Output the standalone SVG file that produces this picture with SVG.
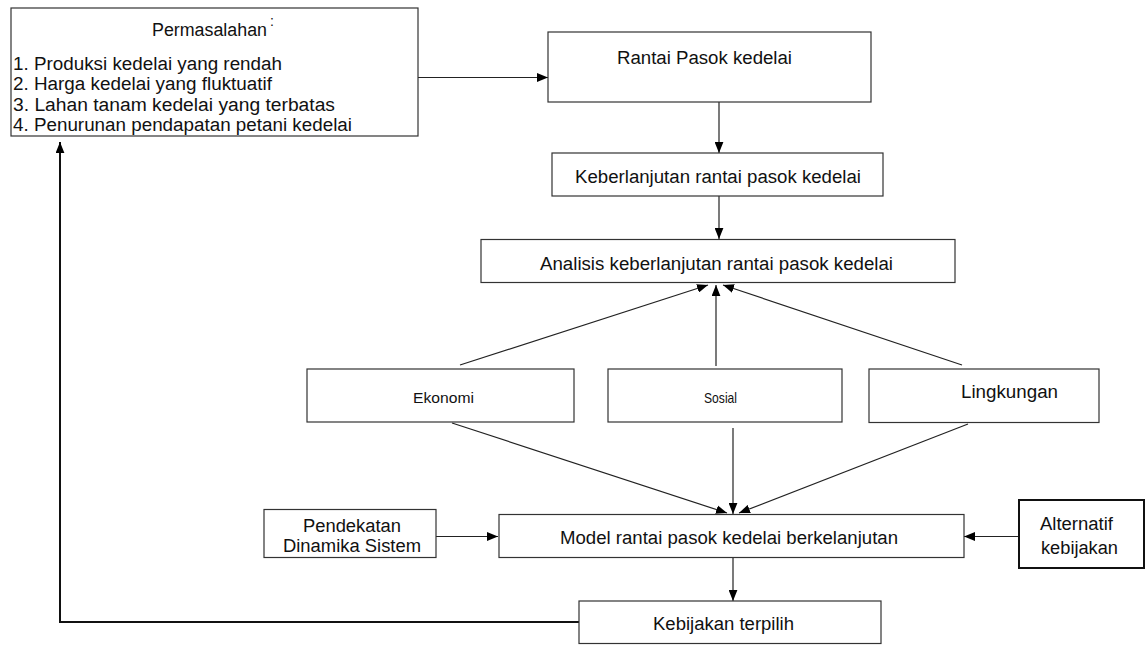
<svg xmlns="http://www.w3.org/2000/svg" width="1145" height="645" viewBox="0 0 1145 645">
<style>
.box{fill:#fff;stroke:#333;stroke-width:1.2}
.thick{fill:#fff;stroke:#111;stroke-width:2}
text{font-family:"Liberation Sans",Arial,sans-serif;font-size:18px;fill:#111}
.sm{font-size:15px}
.c{stroke:#222;stroke-width:1.2;fill:none;marker-end:url(#ah)}
.cb{stroke:#111;stroke-width:2;fill:none;marker-end:url(#ah)}
</style>
<defs>
<marker id="ah" viewBox="0 0 10 8" refX="10" refY="4" markerUnits="userSpaceOnUse" markerWidth="11" markerHeight="9" orient="auto"><path d="M0,0 L10,4 L0,8 z" fill="#000"/></marker>
</defs>
<rect width="1145" height="645" fill="#fff"/>
<g id="connectors">
<path class="c" d="M418,77.5 H548"/>
<path class="c" d="M719,102 V153"/>
<path class="c" d="M719,196 V239"/>
<path class="c" d="M460,365 L708,285"/>
<path class="c" d="M716,366 V285"/>
<path class="c" d="M962,365 L723,285"/>
<path class="c" d="M452,423 L727,513"/>
<path class="c" d="M733,428 V514"/>
<path class="c" d="M968,424 L739,513"/>
<path class="c" d="M436,536.5 H498"/>
<path class="c" d="M1019,536.5 H964"/>
<path class="c" d="M733,557 V601"/>
<path class="cb" d="M579,622 H60 V142"/>
</g>
<g id="permasalahan">
<rect class="box" x="11" y="8" width="407" height="128"/>
<text x="152" y="36" textLength="115" lengthAdjust="spacingAndGlyphs">Permasalahan</text>
<text x="270" y="26" style="font-size:14px">:</text>
<text x="13" y="69.5" textLength="269" lengthAdjust="spacingAndGlyphs">1. Produksi kedelai yang rendah</text>
<text x="13" y="90" textLength="259" lengthAdjust="spacingAndGlyphs">2. Harga kedelai yang fluktuatif</text>
<text x="13" y="110.5" textLength="322" lengthAdjust="spacingAndGlyphs">3. Lahan tanam kedelai yang terbatas</text>
<text x="13" y="131" textLength="339" lengthAdjust="spacingAndGlyphs">4. Penurunan pendapatan petani kedelai</text>
</g>
<g id="rantai">
<rect class="box" x="548" y="32" width="323" height="70"/>
<text x="617" y="64" textLength="175" lengthAdjust="spacingAndGlyphs">Rantai Pasok kedelai</text>
</g>
<g id="keberlanjutan">
<rect class="box" x="552" y="153" width="331" height="43"/>
<text x="575" y="182.5" textLength="286" lengthAdjust="spacingAndGlyphs">Keberlanjutan rantai pasok kedelai</text>
</g>
<g id="analisis">
<rect class="box" x="481" y="239.5" width="474" height="43"/>
<text x="540" y="269.5" textLength="353" lengthAdjust="spacingAndGlyphs">Analisis keberlanjutan rantai pasok kedelai</text>
</g>
<g id="ekonomi">
<rect class="box" x="307" y="369" width="267" height="53"/>
<text class="sm" x="413" y="402.5" textLength="61" lengthAdjust="spacingAndGlyphs">Ekonomi</text>
</g>
<g id="sosial">
<rect class="box" x="608" y="369" width="234" height="53"/>
<text class="sm" x="704" y="403" textLength="33" lengthAdjust="spacingAndGlyphs">Sosial</text>
</g>
<g id="lingkungan">
<rect class="box" x="869" y="369" width="230" height="53.5"/>
<text x="961" y="397.5" textLength="97" lengthAdjust="spacingAndGlyphs">Lingkungan</text>
</g>
<g id="pendekatan">
<rect class="box" x="264" y="509.5" width="172" height="48"/>
<text x="303" y="531.5" textLength="98" lengthAdjust="spacingAndGlyphs">Pendekatan</text>
<text x="283" y="551.5" textLength="138" lengthAdjust="spacingAndGlyphs">Dinamika Sistem</text>
</g>
<g id="model">
<rect class="box" x="499" y="514.5" width="465" height="43"/>
<text x="560" y="543.5" textLength="338" lengthAdjust="spacingAndGlyphs">Model rantai pasok kedelai berkelanjutan</text>
</g>
<g id="alternatif">
<rect class="thick" x="1019" y="500" width="125" height="68"/>
<text x="1040" y="529.5" textLength="73" lengthAdjust="spacingAndGlyphs">Alternatif</text>
<text x="1041" y="553.5" textLength="77" lengthAdjust="spacingAndGlyphs">kebijakan</text>
</g>
<g id="kebijakan">
<rect class="box" x="579" y="601" width="302" height="42.5"/>
<text x="653" y="629.5" textLength="141" lengthAdjust="spacingAndGlyphs">Kebijakan terpilih</text>
</g>
</svg>
